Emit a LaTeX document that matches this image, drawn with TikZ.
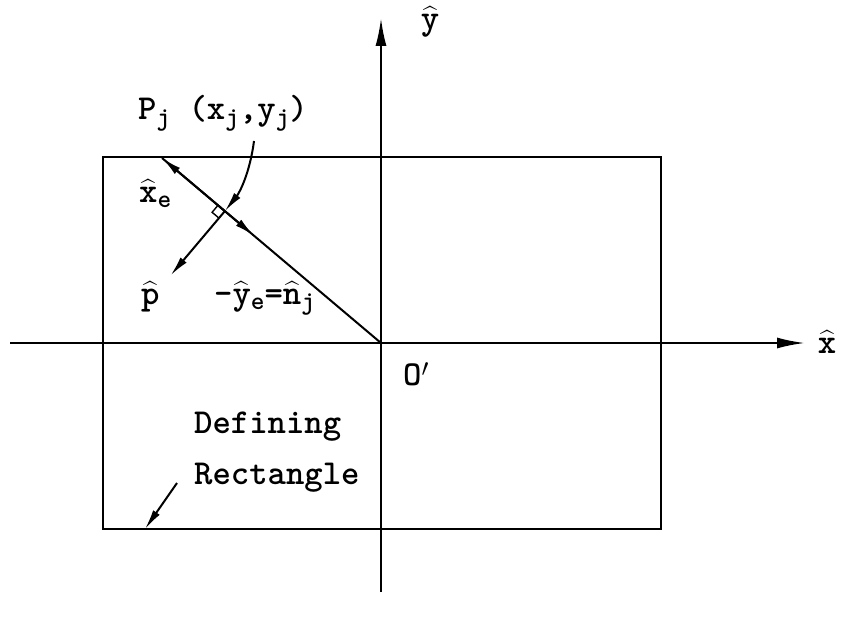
\documentclass[tikz,border=0pt]{standalone}
\usepackage{amsmath}
\usepackage{fontspec}
\usetikzlibrary{arrows.meta,calc}
\newcommand\hv[1]{$\widehat{\text{#1}}$}
\newcommand\sbs[1]{\raisebox{-0.35ex}{\fontsize{26}{28}\selectfont\ttfamily\bfseries #1}}
\begin{document}
\begin{tikzpicture}[x=1pt,y=-1pt,
  lbl/.style={inner sep=0pt,font=\fontsize{35}{40}\selectfont\ttfamily\bfseries},
  axis/.style={line width=2.2pt,-{Latex[length=28pt,width=11pt]}},
  vec/.style={line width=2pt},
  head/.style={-{Latex[length=20pt,width=8pt]}}]
\useasboundingbox (0,0) rectangle (841,623);
\coordinate (O) at (381,343);
\coordinate (T) at (162,158);
\coordinate (P) at (224.8,211.2);
\coordinate (Pe) at (170.6,275.4);
\coordinate (Ytop) at (381,18);
\coordinate (Ybot) at (381,592);
\coordinate (Xl) at (10,343);
\coordinate (Xr) at (805,343);
% rectangle
\draw[line width=2.4pt] (103,157) rectangle (661,529);
% axes
\draw[axis] (Ybot) -- (Ytop);
\draw[axis] (Xl) -- (Xr);
% diagonal
\draw[vec,head] (O) -- (T);
\draw[vec,head] (T) -- ($(T)!0.42!(O)$);
\draw[vec,head] (P) -- (Pe);
% right angle
\draw[line width=1.4pt] (P) -- ++(-6.9,-5.8) -- ++(-5.8,6.9) -- ++(6.9,5.8);
% curved pointer
\coordinate (Cs) at (254,141);
\draw[vec,head] (Cs) .. controls (250,172) and (240,192) .. (P);
% rectangle pointer
\coordinate (Rs) at (177,483);
\coordinate (Re) at (145,529);
\draw[vec,head] (Rs) -- (Re);
% labels
\node[lbl] (ly) at (430,22) {\hv{y}};
\node[lbl] (lx) at (827,342) {\hv{x}};
\node[lbl] (lo) at (416,374) {O$'$};
\node[lbl,anchor=base west] (lp) at (138,120) {P\sbs{j} (x\sbs{j},y\sbs{j})};
\node[lbl,anchor=base west] (lxe) at (139,202) {\hv{x}\sbs{e}};
\node[lbl,anchor=base west] (lph) at (141,304) {\hv{p}};
\node[lbl,anchor=base west] (ln) at (214,304) {-\hv{y}\sbs{e}=\hv{n}\sbs{j}};
\node[lbl,anchor=base west] (ld) at (194,433) {Defining};
\node[lbl,anchor=base west] (lr) at (194,484) {Rectangle};
\end{tikzpicture}
\end{document}
